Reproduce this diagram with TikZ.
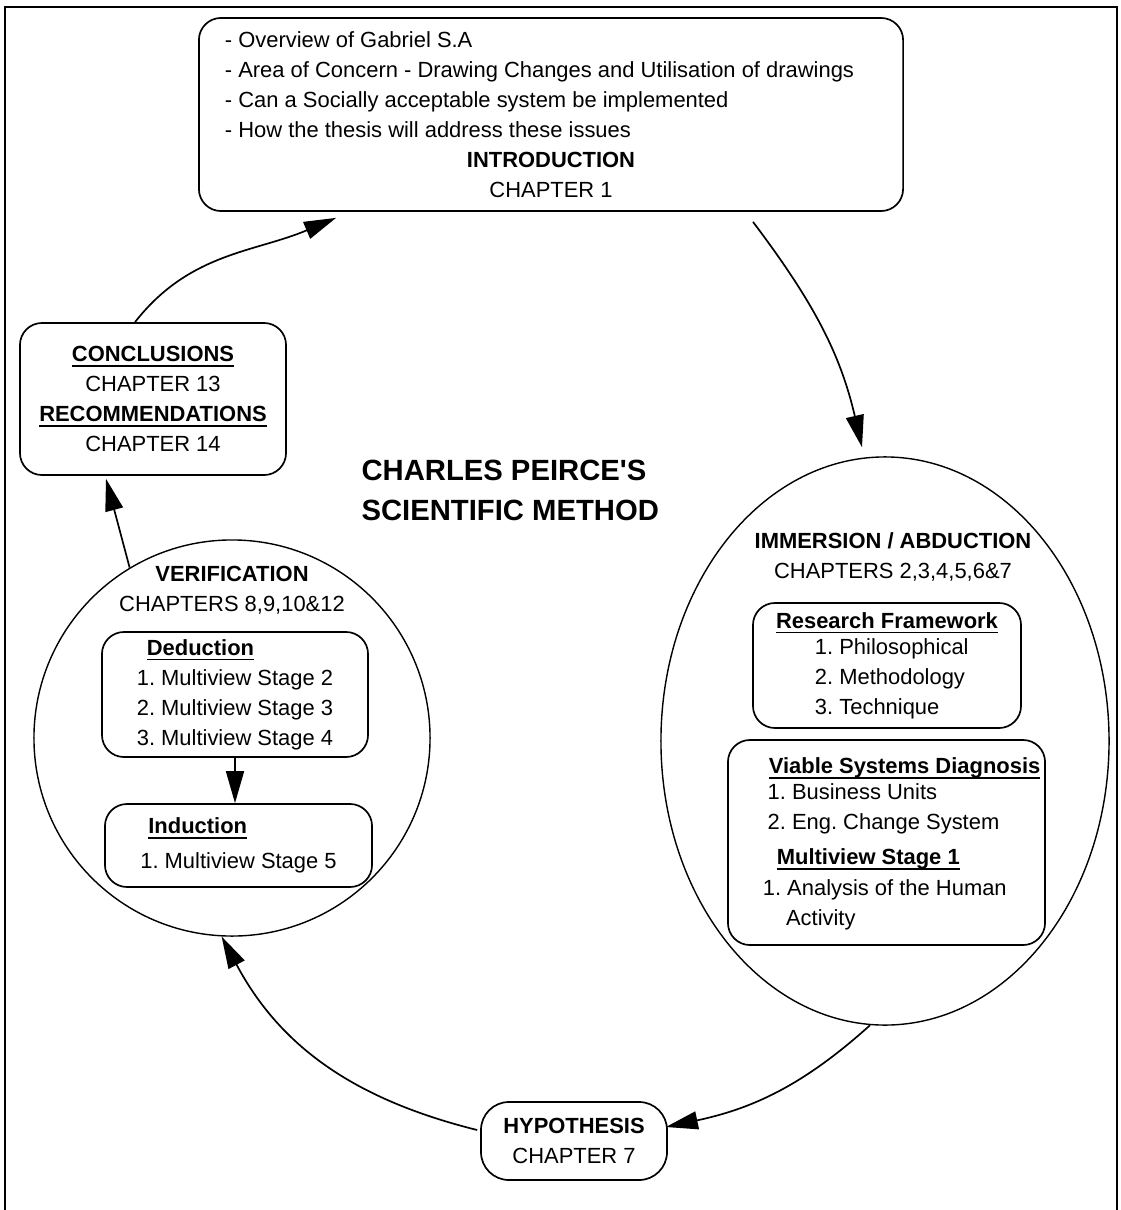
\documentclass[tikz,border=0pt]{standalone}
\usepackage{fontspec}
\setmainfont{Liberation Sans}
\usetikzlibrary{arrows.meta,shapes.geometric}
\frenchspacing

\newcommand{\headul}[1]{\setbox0\hbox{\textbf{#1}}\rlap{\rule[-3.7pt]{\wd0}{1.3pt}}\box0}

\begin{document}
\begin{tikzpicture}[->,>={Triangle[length=8mm,width=4.5mm]},line width=1.2pt,
                    x=0.025cm,y=0.025cm,
                    font=\fontsize{15.6pt}{21.3pt}\selectfont,
                    box/.style={draw,rounded corners=0.55cm,align=center,inner sep=0pt},
                    ring/.style={draw,line width=1pt,inner sep=0pt}]

  \useasboundingbox (0,0) rectangle (1120,-1210);
  \draw[-] (5,-1210) -- (5,-7) -- (1117,-7) -- (1117,-1210);

  % top of the cycle
  \node[box,minimum width=17.6cm,minimum height=4.825cm] (intro) at (551,-114.5)
    {\makebox[16.3cm][l]{- Overview of Gabriel S.A}\\
     \makebox[16.3cm][l]{- Area of Concern - Drawing Changes and Utilisation of drawings}\\
     \makebox[16.3cm][l]{- Can a Socially acceptable system be implemented}\\
     \makebox[16.3cm][l]{- How the thesis will address these issues}\\
     \textbf{INTRODUCTION}\\ CHAPTER 1};

  \node[box,minimum width=6.65cm,minimum height=3.8cm] (concl) at (153,-399)
    {\headul{CONCLUSIONS}\\ CHAPTER 13\\ \headul{RECOMMENDATIONS}\\ CHAPTER 14};

  \node[anchor=west,align=left,font=\fontsize{20.8pt}{28.45pt}\selectfont\bfseries]
    (title) at (356,-490) {CHARLES PEIRCE\textquotesingle S\\ SCIENTIFIC METHOD};

  % left circle
  \node[ring,circle,minimum size=9.9cm] (verif) at (232,-738) {};
  \node[align=center] (veriftitle) at (232,-590)
    {\textbf{VERIFICATION}\\ CHAPTERS 8,9,10\&12};
  \node[box,align=left,minimum width=6.65cm,minimum height=3.125cm] (deduct) at (235,-694.5)
    {\hspace*{0.25cm}\headul{Deduction}\\ 1. Multiview Stage 2\\
     2. Multiview Stage 3\\ 3. Multiview Stage 4};
  \node[box,align=left,minimum width=6.675cm,minimum height=2.075cm] (induct) at (238.5,-845.5)
    {\hspace*{0.2cm}\headul{Induction}\\[0.12cm] 1. Multiview Stage 5};

  % right ellipse
  \node[ring,ellipse,minimum width=11.2cm,minimum height=14.2cm] (immer) at (885,-741) {};
  \node[align=center] (immertitle) at (893,-557)
    {\textbf{IMMERSION / ABDUCTION}\\ CHAPTERS 2,3,4,5,6\&7};
  \node[box,minimum width=6.7cm,minimum height=3.125cm] (research) at (887,-665.5)
    {\headul{Research Framework}\\[-0.1cm]
     \makebox[3.6cm][l]{1. Philosophical}\\
     \makebox[3.6cm][l]{2. Methodology}\\
     \makebox[3.6cm][l]{3. Technique}};
  \node[box,minimum width=7.925cm,minimum height=5.125cm] (viable) at (886.5,-842.5) {};
  \node[anchor=west,align=left,inner sep=0pt] (viabletext) at (762,-844)
    {\hspace*{0.15cm}\headul{Viable Systems Diagnosis}\\[-0.1cm]
     \hspace*{0.12cm}1. Business Units\\
     \hspace*{0.12cm}2. Eng. Change System\\[0.12cm]
     \hspace*{0.35cm}\headul{Multiview Stage 1}\\[0.03cm]
     1. Analysis of the Human\\
     \hspace*{0.58cm}Activity};

  \node[box,rounded corners=0.7cm,minimum width=4.65cm,minimum height=1.95cm] (hypo) at (574,-1141)
    {\textbf{HYPOTHESIS}\\ CHAPTER 7};

  % the cycle
  \draw ([shift={(-18,0)}]concl.north) to[out=52,in=203] ([shift={(138,-6)}]intro.south west);
  \draw ([shift={(202,-10)}]intro.south) to[out=-53,in=103] ([shift={(-23,9)}]immer.north);
  \draw (immer.-93) to[out=222,in=12] ([shift={(-2,14)}]hypo.east);
  \draw ([shift={(-3,11)}]hypo.west) to[out=166,in=-62] (verif.-93);
  \draw (verif.121) -- ([shift={(-47,-3)}]concl.south);
  \draw (deduct.south) -- (deduct.south |- induct.north);
\end{tikzpicture}
\end{document}
